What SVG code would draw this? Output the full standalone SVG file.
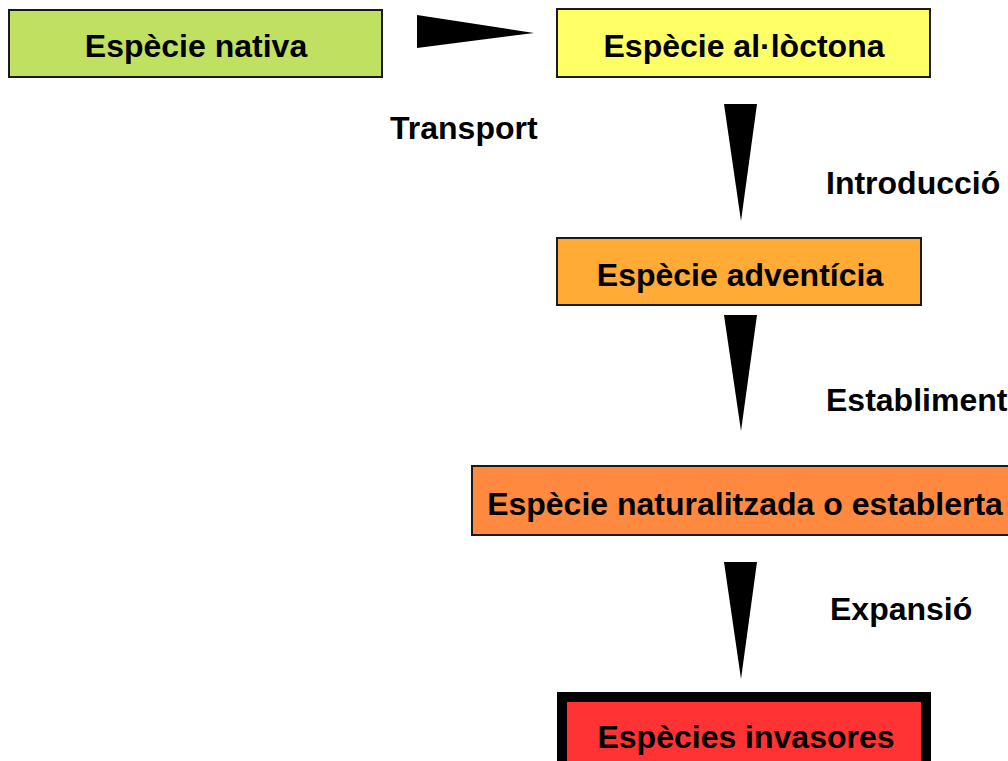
<svg xmlns="http://www.w3.org/2000/svg" width="1008" height="761" viewBox="0 0 1008 761">
<style>
.box{stroke:#1a1a1a;stroke-width:2}
.t{font-family:"Liberation Sans",Arial,sans-serif;font-weight:bold;font-size:32px;fill:#000}
.c{text-anchor:middle}
.arr{fill:#000}
</style>
<rect width="1008" height="761" fill="#fff"/>
<g id="nativa">
<rect class="box" x="9" y="10" width="373" height="67" fill="#c0e062"/>
<text class="t c" x="196" y="57">Espècie nativa</text>
</g>
<g id="alloctona">
<rect class="box" x="557" y="9" width="373" height="68" fill="#ffff66"/>
<text class="t c" x="744" y="57">Espècie al·lòctona</text>
</g>
<g id="adventicia">
<rect class="box" x="557" y="238" width="364" height="67" fill="#ffab35"/>
<text class="t c" x="740" y="286">Espècie adventícia</text>
</g>
<g id="naturalitzada">
<rect class="box" x="472" y="466" width="545" height="69" fill="#ff8a3f"/>
<text class="t c" x="745" y="515">Espècie naturalitzada o establerta</text>
</g>
<g id="invasores">
<rect x="562" y="697" width="364" height="80" fill="#ff3333" stroke="#000" stroke-width="10"/>
<text class="t c" x="746" y="748">Espècies invasores</text>
</g>
<g id="connectors">
<polygon class="arr" points="417,15 417,48 534,33"/>
<polygon class="arr" points="724,104 757,104 741,221"/>
<polygon class="arr" points="724,315 757,315 741,431"/>
<polygon class="arr" points="724,562 757,562 741,679"/>
</g>
<g id="labels">
<text class="t" x="390" y="139">Transport</text>
<text class="t" x="826" y="194">Introducció</text>
<text class="t" x="826" y="411">Establiment</text>
<text class="t" x="830" y="620">Expansió</text>
</g>
</svg>
